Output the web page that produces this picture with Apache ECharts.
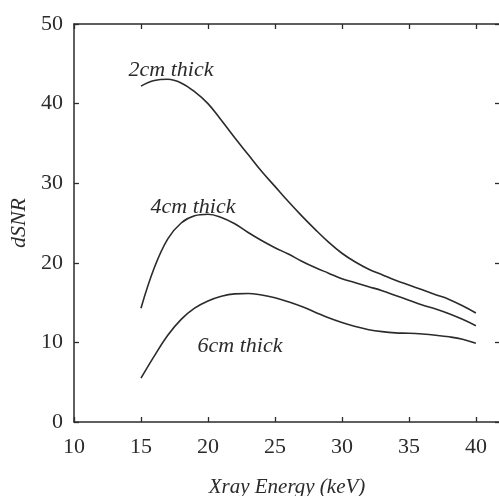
<!DOCTYPE html>
<html>
<head>
<meta charset="utf-8">
<script src="https://cdn.jsdelivr.net/npm/echarts@6/dist/echarts.min.js"></script>
<style>
  html, body { margin: 0; padding: 0; background: #fff; }
  #chart { width: 499px; height: 496px; }
</style>
</head>
<body>
<div id="chart"></div>
<script>
// X-ray energy (keV) and detectability SNR for three phantom thicknesses
const energy = [15, 16, 17, 18, 19, 20, 21, 22, 23, 24, 25, 26, 27, 28, 29, 30, 31, 32, 33, 34, 35, 36, 37, 38, 39, 40];
const dsnr2cm = [42.2, 42.9, 43.05, 42.6, 41.5, 40.0, 37.9, 35.7, 33.6, 31.5, 29.6, 27.7, 25.9, 24.2, 22.6, 21.2, 20.1, 19.2, 18.5, 17.8, 17.2, 16.6, 16.0, 15.4, 14.6, 13.7];
const dsnr4cm = [14.3, 19.4, 23.0, 25.0, 25.9, 26.1, 25.7, 24.9, 23.8, 22.8, 21.9, 21.1, 20.2, 19.4, 18.7, 18.0, 17.5, 17.0, 16.5, 15.9, 15.3, 14.7, 14.2, 13.6, 12.9, 12.1];
const dsnr6cm = [5.5, 8.3, 10.9, 12.9, 14.3, 15.2, 15.8, 16.1, 16.15, 15.95, 15.6, 15.1, 14.5, 13.8, 13.1, 12.5, 12.0, 11.6, 11.35, 11.2, 11.15, 11.05, 10.9, 10.7, 10.4, 9.9];

const curveNames = ['2cm thick', '4cm thick', '6cm thick'];
const xTickLabels = [10, 15, 20, 25, 30, 35, 40];
const yTickLabels = [0, 10, 20, 30, 40, 50];

const ink = '#2b2b2b';
const serif = '"Liberation Serif", "Times New Roman", serif';

const pairs = (xs, ys) => xs.map((x, i) => [x, ys[i]]);

const chart = echarts.init(document.getElementById('chart'), null, { renderer: 'canvas' });

const axisLine = { show: true, onZero: false, lineStyle: { color: ink, width: 1.5 } };
const tickIn = { show: true, inside: true, length: 5, lineStyle: { color: ink, width: 1.3 } };

const labelFor = (ticks) => (v) => (ticks.indexOf(Math.round(v * 1000) / 1000) >= 0 ? String(v) : '');

const curve = (name, data) => ({
  name: name,
  type: 'line',
  data: data,
  smooth: 0.4,
  showSymbol: false,
  symbol: 'none',
  lineStyle: { color: ink, width: 1.6 },
  silent: true
});

// annotation anchors in data coordinates (energy, dSNR)
const curveLabelAnchors = [[17.24, 44.2], [18.88, 27.0], [22.39, 9.55]];

chart.setOption({
  animation: false,
  backgroundColor: '#fff',
  grid: { left: 74, top: 24, width: 426, height: 398, containLabel: false, outerBoundsMode: 'none' },
  xAxis: [
    {
      type: 'value', min: 10, max: 41.8, interval: 5,
      axisLine: axisLine, axisTick: tickIn, splitLine: { show: false },
      axisLabel: { color: ink, fontFamily: serif, fontSize: 22, margin: 14, formatter: labelFor(xTickLabels) },
      name: 'Xray Energy (keV)', nameLocation: 'middle', nameGap: 55,
      nameTextStyle: { color: ink, fontFamily: serif, fontStyle: 'italic', fontSize: 21 }
    },
    {
      type: 'value', position: 'top', min: 10, max: 41.8, interval: 5,
      axisLine: axisLine, axisTick: tickIn, splitLine: { show: false },
      axisLabel: { show: false }
    }
  ],
  yAxis: [
    {
      type: 'value', min: 0, max: 50, interval: 10,
      axisLine: axisLine, axisTick: tickIn, splitLine: { show: false },
      axisLabel: { color: ink, fontFamily: serif, fontSize: 22, margin: 11, formatter: labelFor(yTickLabels) },
      name: 'dSNR', nameLocation: 'middle', nameGap: 43, nameRotate: 90,
      nameTextStyle: { color: ink, fontFamily: serif, fontStyle: 'italic', fontSize: 22 }
    },
    {
      type: 'value', position: 'right', min: 0, max: 50, interval: 10,
      axisLine: axisLine, axisTick: tickIn, splitLine: { show: false },
      axisLabel: { show: false }
    }
  ],
  series: [
    curve(curveNames[0], pairs(energy, dsnr2cm)),
    curve(curveNames[1], pairs(energy, dsnr4cm)),
    curve(curveNames[2], pairs(energy, dsnr6cm))
  ]
});

// curve captions placed through the axis scales
chart.setOption({
  graphic: curveNames.map((txt, i) => {
    const p = chart.convertToPixel({ gridIndex: 0 }, curveLabelAnchors[i]);
    return {
      type: 'text', x: p[0], y: p[1], silent: true,
      style: {
        text: txt, fill: ink, font: 'italic 22px ' + serif,
        textAlign: 'center', textVerticalAlign: 'middle'
      }
    };
  })
});
</script>
</body>
</html>
